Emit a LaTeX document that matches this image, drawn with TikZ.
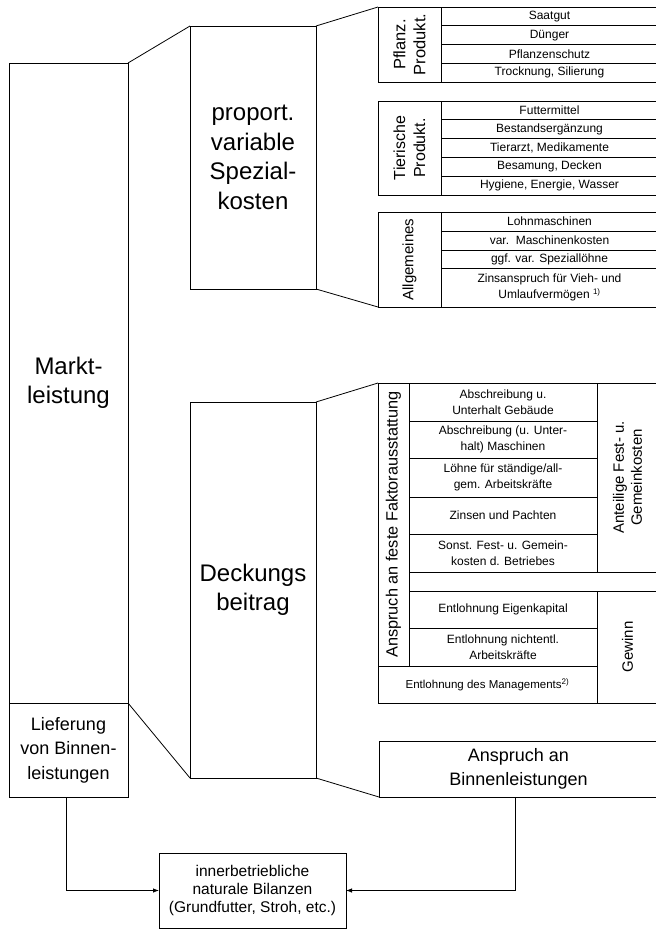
\documentclass[tikz,border=0pt]{standalone}
\usepackage{fontspec}
\setmainfont{Liberation Sans}
\usetikzlibrary{positioning, arrows.meta}

\begin{document}
\begin{tikzpicture}[x=1pt, y=-1pt, line width=0.8pt,
	box/.style={draw, rectangle, inner sep=0pt, outer sep=0pt, align=center, anchor=north west},
	cell/.style 2 args={box, minimum width=#1, minimum height=#2},
	row/.style={cell={217pt}{#1}, font=\fontsize{12}{16.5}\selectfont},
	brow/.style={cell={188pt}{#1}, font=\fontsize{12}{16}\selectfont},
	big/.style={font=\fontsize{24}{29.5}\selectfont},
	mid/.style={font=\fontsize{18}{24.5}\selectfont},
	vlab/.style={rotate=90, align=center, font=\fontsize{15}{18}\selectfont},
	arr/.style={-{Latex[length=6pt,width=4.5pt]}}]
		
		\useasboundingbox (0,0) rectangle (656,930);
		\clip (0,0) rectangle (656,930);
		
		%Main blocks
		\node[cell={119pt}{640pt}, big] (markt) at (9,63) {Markt-\\leistung};
		\node[cell={119pt}{94pt}, mid] (liefer) at (9,703) {Lieferung\\von Binnen-\\leistungen};
		\node[cell={126pt}{263pt}, big] (spezial) at (190,26) {proport.\\variable\\Spezial-\\kosten};
		\node[cell={126pt}{376pt}, big] (deckung) at (190,402) {Deckungs\\beitrag};
		\node[cell={279pt}{56pt}, mid] (anspruch) at (379,741) {\rule{0pt}{10pt}Anspruch an\\Binnenleistungen};
		\node[cell={187pt}{75pt}, font=\fontsize{15.5}{18.3}\selectfont] (bilanz) at (159,853) {innerbetriebliche\\naturale Bilanzen\\(Grundfutter, Stroh, etc.)};
		
		%Pflanzliche Produktion
		\node[cell={63pt}{75pt}] (pflanz) at (378,7) {};
		\node[vlab, font=\fontsize{16.5}{20}\selectfont] (pflanzlab) at (pflanz.center) {Pflanz.\\Produkt.};
		\node[row=18.75pt, right=0pt of pflanz.north east, anchor=north west] (saat) {Saatgut};
		\node[row=18.75pt, below=0pt of saat] (duenger) {Dünger};
		\node[row=18.75pt, below=0pt of duenger] (schutz) {Pflanzenschutz};
		\node[row=18.75pt, below=0pt of schutz] (trock) {Trocknung, Silierung};
		
		%Tierische Produktion
		\node[cell={63pt}{94pt}] (tier) at (378,101) {};
		\node[vlab, font=\fontsize{16}{20}\selectfont] (tierlab) at (tier.center) {Tierische\\Produkt.};
		\node[row=18.8pt, right=0pt of tier.north east, anchor=north west] (futter) {Futtermittel};
		\node[row=18.8pt, below=0pt of futter] (bestand) {Bestandsergänzung};
		\node[row=18.8pt, below=0pt of bestand] (arzt) {Tierarzt, Medikamente};
		\node[row=18.8pt, below=0pt of arzt] (besam) {Besamung, Decken};
		\node[row=18.8pt, below=0pt of besam] (hyg) {Hygiene, Energie, Wasser};
		
		%Allgemeines
		\node[cell={63pt}{95pt}] (allg) at (378,212) {};
		\node[vlab] (allglab) at (allg.center) {Allgemeines};
		\node[row=19pt, right=0pt of allg.north east, anchor=north west] (lohnm) {Lohnmaschinen};
		\node[row=19pt, below=0pt of lohnm] (varm) {var.\ \ Maschinenkosten};
		\node[row=18pt, below=0pt of varm] (spezl) {ggf. var. Spezial\-löhne};
		\node[row=39pt, below=0pt of spezl] (zins) {Zinsanspruch für Vieh- und\\Umlaufvermögen \textsuperscript{1)}};
		
		%Faktorausstattung
		\node[cell={31pt}{283pt}] (faktor) at (378,383) {};
		\node[vlab, font=\fontsize{16.3}{18}\selectfont] (faktorlab) at (faktor.center) {Anspruch an feste Faktorausstattung};
		\node[brow=38pt, right=0pt of faktor.north east, anchor=north west] (gebaeude) {Abschreibung u.\\Unterhalt Gebäude};
		\node[brow=37pt, below=0pt of gebaeude] (maschinen) {Abschreibung (u. Unter-\\halt) Maschinen};
		\node[brow=39pt, below=0pt of maschinen] (loehne) {Löhne für ständige/all-\\gem. Arbeitskräfte};
		\node[brow=37pt, below=0pt of loehne] (pacht) {Zinsen und Pachten};
		\node[brow=38pt, below=0pt of pacht] (sonst) {Sonst. Fest- u. Gemein-\\kosten d. Betriebes};
		\node[cell={61pt}{189pt}, right=0pt of gebaeude.north east, anchor=north west] (anteil) {};
		\node[vlab] (anteillab) at (anteil.center) {Anteilige Fest- u.\\Gemeinkosten};
		\node[cell={249pt}{19pt}, below=0pt of sonst.south west, anchor=north west] (leer) {};
		\node[brow=37pt, below=0pt of leer.south west, anchor=north west] (eigen) {Entlohnung Eigenkapital};
		\node[brow=38pt, below=0pt of eigen] (nichtentl) {Entlohnung nichtentl.\\Arbeitskräfte};
		\node[cell={219pt}{37pt}, font=\fontsize{11.5}{14}\selectfont, below=0pt of faktor.south west, anchor=north west] (manage) {Entlohnung des Managements\textsuperscript{2)}};
		\node[cell={61pt}{112pt}, right=0pt of eigen.north east, anchor=north west] (gewinn) {};
		\node[vlab] (gewinnlab) at (gewinn.center) {Gewinn};
		
		%Funnel lines
		\draw (markt.north east) -- (spezial.north west);
		\draw (spezial.north east) -- (pflanz.north west);
		\draw (spezial.south east) -- (allg.south west);
		\draw (deckung.north east) -- (faktor.north west);
		\draw (markt.south east) -- (deckung.south west);
		\draw (deckung.south east) -- (anspruch.south west);
		
		%Arrows
		\draw[arr] ([xshift=-2pt]liefer.south) |- (bilanz.west);
		\draw[arr] ([xshift=-3pt]anspruch.south) |- (bilanz.east);
		
		\end{tikzpicture}
\end{document}
